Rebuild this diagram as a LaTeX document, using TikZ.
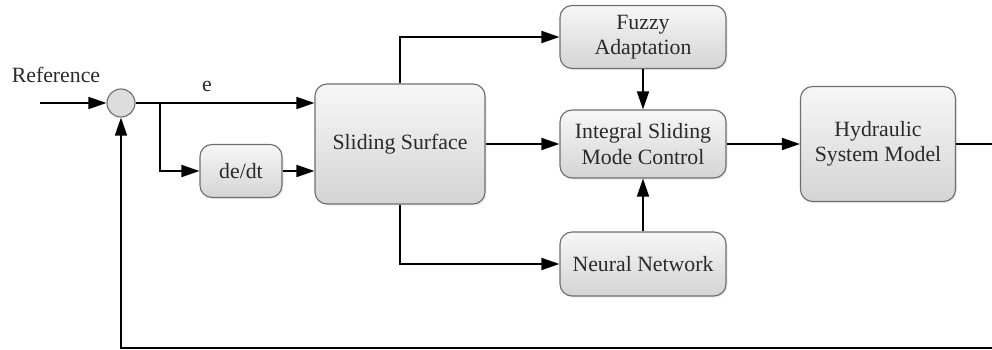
\documentclass[tikz,border=0pt]{standalone}
\usepackage{fontspec}
\setmainfont{Liberation Serif}
\usetikzlibrary{arrows.meta,shadows}
\definecolor{boxline}{HTML}{6E6E6E}
\definecolor{boxtop}{HTML}{F7F7F7}
\definecolor{boxbottom}{HTML}{D4D4D4}
\definecolor{labeltext}{HTML}{2A2A2A}
\tikzset{
	block/.style={draw=boxline,thick,rounded corners=0.3cm,top color=boxtop,bottom color=boxbottom,%
		align=center,text=labeltext,font=\fontsize{15.5}{18}\selectfont,inner sep=0pt,%
		drop shadow={opacity=0.15,shadow xshift=0.04cm,shadow yshift=-0.04cm}},%
	sumjunction/.style={circle,draw=boxline,thick,fill=boxbottom!80,minimum size=0.7cm,inner sep=0pt},%
	signal/.style={line width=1.2pt,-{Triangle[length=4.5mm,width=3mm]}},%
	wire/.style={line width=1.2pt},%
	tag/.style={text=labeltext,font=\fontsize{15.5}{18}\selectfont},%
}
\def\mainrow{5.15}
\def\midcol{16.075}
\begin{document}
\begin{tikzpicture}
	\useasboundingbox (0,0) rectangle (24.8,8.75);
	% blocks
	\node[sumjunction] (sum) at (3.025,6.175) {};
	\node[block,minimum width=2.05cm,minimum height=1.325cm] (dedt) at (6.025,4.475) {de/dt};
	\node[block,minimum width=4.25cm,minimum height=3cm] (surface) at (10,\mainrow) {Sliding Surface};
	\node[block,minimum width=4.15cm,minimum height=1.575cm] (fuzzy) at (\midcol,7.825) {Fuzzy\\Adaptation};
	\node[block,minimum width=4.15cm,minimum height=1.7cm] (ismc) at (\midcol,\mainrow) {Integral Sliding\\Mode Control};
	\node[block,minimum width=4.15cm,minimum height=1.6cm] (neural) at (\midcol,2.15) {Neural Network};
	\node[block,minimum width=3.875cm,minimum height=2.875cm] (plant) at (21.95,\mainrow) {Hydraulic\\System Model};
	\node[tag] (reference) at (1.4,6.875) {Reference};
	\node[tag] (elabel) at (5.175,6.6) {e};
	\coordinate (input) at (1,6.175);
	\coordinate (branch) at (4,6.175);
	\coordinate (output) at (24.8,\mainrow);
	\coordinate (return) at (24.8,0.05);
	% connectors
	\draw[signal] (input) -- (sum);
	\draw[signal] (sum) -- (surface.west |- sum);
	\draw[signal] (branch) |- (dedt);
	\draw[signal] (dedt) -- (surface.west |- dedt);
	\draw[signal] (surface.north) |- (fuzzy);
	\draw[signal] (surface.south) |- (neural);
	\draw[signal] (surface) -- (ismc);
	\draw[signal] (fuzzy) -- (ismc);
	\draw[signal] (neural) -- (ismc);
	\draw[signal] (ismc) -- (plant);
	\draw[wire] (plant) -- (output);
	\draw[signal] (return) -| (sum);
\end{tikzpicture}
\end{document}
